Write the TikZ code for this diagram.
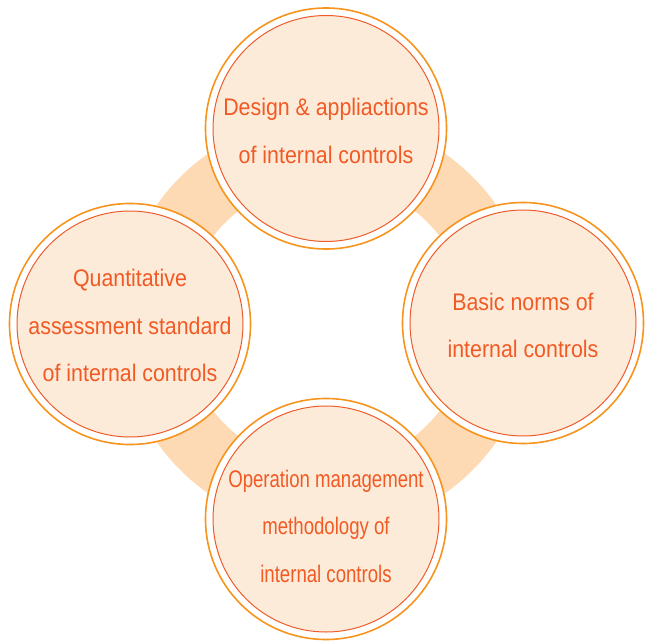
\documentclass[tikz,border=0pt]{standalone}
\usepackage{fontspec}
\setmainfont[FakeStretch=0.89]{Liberation Sans}
\newfontfamily\narrowfont[FakeStretch=0.775]{Liberation Sans}
\definecolor{ringc}{HTML}{FDD9B4}
\definecolor{fillc}{HTML}{FDEBD9}
\definecolor{outerc}{HTML}{F7941D}
\definecolor{innerc}{HTML}{EF5B2A}
\definecolor{textc}{HTML}{F15A24}
\tikzset{
  topic/.style={circle, minimum size=226pt, inner sep=0pt, fill=fillc, draw=innerc, line width=1pt},
  rim/.style={fill=white, draw=outerc, line width=1.6pt},
  caption/.style={text=textc, align=center, inner sep=0pt, font=\fontsize{24}{47.5}\selectfont}
}
\begin{document}
\begin{tikzpicture}[x=1pt,y=-1pt]
\useasboundingbox (0,0) rectangle (645,642);
\coordinate (mid) at (326.5,323.5);
\fill[ringc, even odd rule] (mid) circle (207pt) (mid) circle (143pt);
% rims
\coordinate (ct) at (326,128.5);
\coordinate (cl) at (130,324);
\coordinate (cr) at (523,323);
\coordinate (cb) at (326,519);
\draw[rim] (ct) circle (120.5pt);
\draw[rim] (cl) circle (120.5pt);
\draw[rim] (cr) circle (120.5pt);
\draw[rim] (cb) circle (120.5pt);
% inner circles
\node[topic] (top) at (ct) {};
\node[topic] (left) at (cl) {};
\node[topic] (right) at (cr) {};
\node[topic] (bottom) at (cb) {};
% texts
\node[caption, yshift=-2.5pt] (toptext) at (top) {Design \& appliactions\\of internal controls};
\node[caption, yshift=-1.6pt] (lefttext) at (left) {Quantitative\\assessment standard\\of internal controls};
\node[caption, yshift=-2.3pt] (righttext) at (right) {Basic norms of\\internal controls};
\node[caption, font=\narrowfont\fontsize{24}{47.5}\selectfont, yshift=-7.2pt] (bottomtext) at (bottom) {Operation management\\methodology of\\internal controls};
\end{tikzpicture}
\end{document}
